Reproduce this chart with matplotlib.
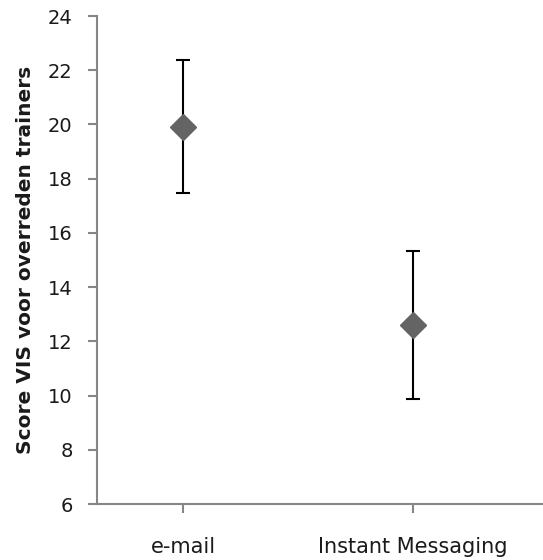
import matplotlib
matplotlib.use("Agg")
import matplotlib.pyplot as plt

categories = ["e-mail", "Instant Messaging"]
means = [19.92, 12.6]
errors = [2.45, 2.73]
yticks = [6, 8, 10, 12, 14, 16, 18, 20, 22, 24]

plt.rcParams['font.family'] = ['DejaVu Sans']

fig = plt.figure(figsize=(5.43, 5.60), dpi=100)
ax = fig.add_axes([97/543, 56/560, 1 - 97/543, 488/560])

x = list(range(len(categories)))
ax.errorbar(x, means, yerr=errors, fmt='none', ecolor='black', elinewidth=1.5,
            capsize=5.3, capthick=1.5, zorder=2)
ax.plot(x, means, linestyle='none', marker='D', markersize=13, color='#646464',
        markeredgecolor='#646464', markeredgewidth=1, zorder=3)

ax.set_ylim(6, 24)
ax.set_yticks(yticks)
ax.set_xlim(-86/230, 360/230)
ax.set_xticks(x)
ax.set_xticklabels(categories)

for s in ['top', 'right']:
    ax.spines[s].set_visible(False)
for s in ['left', 'bottom']:
    ax.spines[s].set_color('#868686')
    ax.spines[s].set_linewidth(1.5)
ax.tick_params(axis='both', colors='#868686', length=6.5, width=1.5, labelcolor='#1a1a1a')
ax.tick_params(axis='x', pad=17, labelsize=15)
ax.tick_params(axis='y', pad=11, labelsize=14)
ax.set_ylabel("Score VIS voor overreden trainers", fontsize=14.5, fontweight='bold',
              labelpad=9, color='#1a1a1a')

fig.savefig("out.png", dpi=100)
